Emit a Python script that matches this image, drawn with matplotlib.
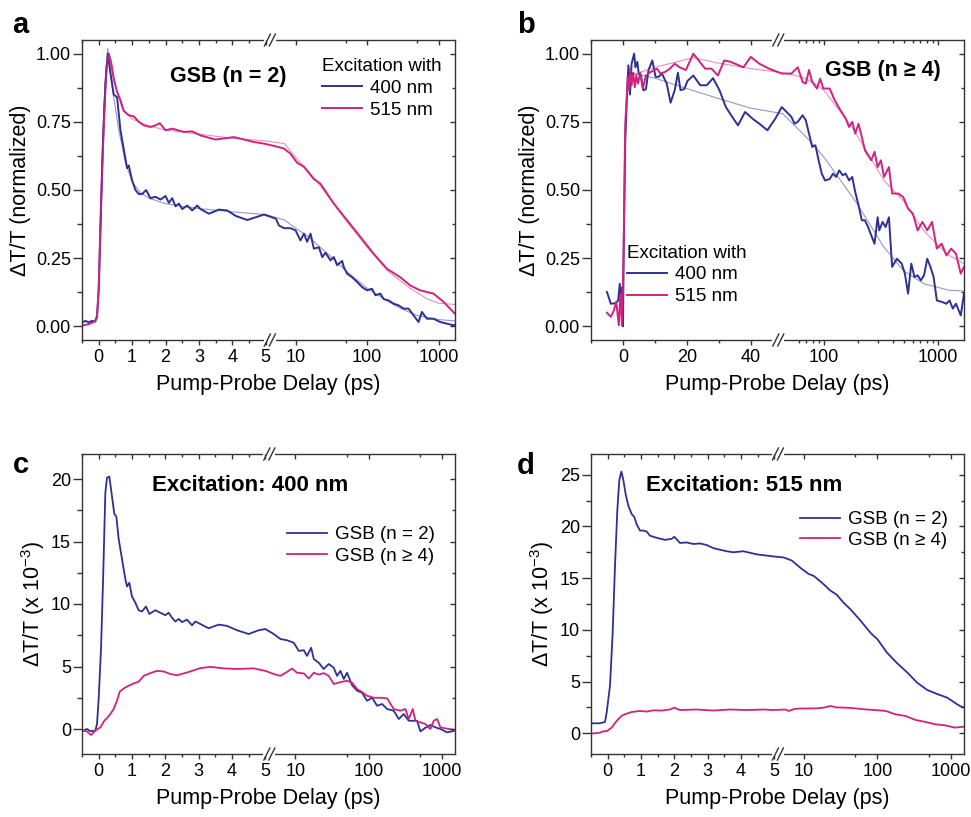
import numpy as np
import matplotlib
matplotlib.use('Agg')
import matplotlib.pyplot as plt

plt.rcParams['font.family'] = ['Liberation Sans', 'DejaVu Sans']
plt.rcParams['mathtext.fontset'] = 'custom'
plt.rcParams['mathtext.rm'] = 'Liberation Sans'
plt.rcParams['mathtext.default'] = 'regular'

NAVY = '#2E3192'
PINK = '#D0237F'

# ---- panel a: GSB (n = 2), normalized ----
a400_t = [-0.47, -0.4, -0.3, -0.2, -0.1, -0.05, 0.0, 0.05, 0.12, 0.2, 0.27, 0.35, 0.45, 0.55, 0.65,
          0.75, 0.85, 0.9, 1.0, 1.1, 1.2, 1.3, 1.42, 1.55, 1.7, 1.85, 2.0, 2.1, 2.2, 2.3, 2.4, 2.5,
          2.65, 2.8, 2.95, 3.05, 3.3, 3.6, 3.85, 4.1, 4.45, 4.95,
          5.3, 5.85, 6.87, 7.65, 8.5, 10, 11.7, 13.1, 14.5, 16.2, 18.0, 21.2, 23.6, 26.2, 30.8,
          34.3, 38.1, 44.8, 47.2, 52.6, 61.8, 72.5, 85.2, 100, 117, 131, 153, 171, 201, 236, 277,
          325, 381, 448, 526, 585, 687, 851, 1054, 1307, 1620, 1700]
a400_y = [0.016, 0.02, 0.015, 0.02, 0.018, 0.04, 0.13, 0.34, 0.65, 0.89, 1.0, 0.93, 0.85, 0.84, 0.72,
          0.65, 0.58, 0.59, 0.535, 0.5, 0.485, 0.485, 0.5, 0.47, 0.475, 0.465, 0.478, 0.453, 0.47,
          0.44, 0.45, 0.43, 0.443, 0.425, 0.443, 0.43, 0.413, 0.428, 0.425, 0.405, 0.39, 0.41,
          0.395, 0.37, 0.36, 0.36, 0.36, 0.352, 0.315, 0.34, 0.31, 0.34, 0.285, 0.29, 0.254, 0.27,
          0.242, 0.254, 0.224, 0.24, 0.218, 0.193, 0.18, 0.163, 0.144, 0.132, 0.138, 0.114, 0.12,
          0.1, 0.095, 0.083, 0.077, 0.065, 0.065, 0.04, 0.016, 0.053, 0.028, 0.028, 0.016, 0.01,
          0.004, 0.006]
a400_fit_t = [0.05, 0.15, 0.27, 0.4, 0.6, 0.8, 1.0, 1.25, 1.5, 2.0, 2.5, 3.0, 4.0, 5.0,
              7, 10, 15, 20, 30, 50, 100, 200, 300, 500, 1000, 1700]
a400_fit_y = [0.35, 0.8, 1.02, 0.88, 0.72, 0.6, 0.53, 0.49, 0.47, 0.45, 0.44, 0.432, 0.42, 0.41,
              0.39, 0.36, 0.33, 0.3, 0.26, 0.205, 0.14, 0.09, 0.065, 0.04, 0.025, 0.02]
a515_t = [-0.47, -0.3, -0.15, -0.05, 0.0, 0.07, 0.15, 0.23, 0.3, 0.37, 0.45, 0.55, 0.65, 0.75,
          0.9, 1.05, 1.2, 1.35, 1.55, 1.7, 1.83, 2.0, 2.2, 2.35, 2.55, 2.8, 3.05, 3.5, 4.05, 4.65, 4.95,
          5.3, 6.87, 8.5, 10.5, 13.1, 18.0, 22.3, 34.3, 52.6, 80.7, 124, 190, 292, 402, 555, 851,
          1175, 1700]
a515_y = [0.004, 0.008, 0.016, 0.03, 0.144, 0.46, 0.73, 0.95, 1.0, 0.97, 0.91, 0.86, 0.83, 0.79,
          0.774, 0.77, 0.75, 0.737, 0.731, 0.737, 0.745, 0.719, 0.725, 0.72, 0.713, 0.715, 0.7,
          0.685, 0.694, 0.676, 0.67,
          0.66, 0.652, 0.633, 0.6, 0.585, 0.54, 0.523, 0.45, 0.389, 0.328, 0.266, 0.211, 0.18,
          0.15, 0.132, 0.12, 0.09, 0.046]
a515_fit_t = [0.05, 0.15, 0.28, 0.45, 0.7, 1.0, 1.5, 2, 3, 4, 5, 7, 10, 15, 20, 30, 50, 100,
              200, 400, 700, 1000, 1700]
a515_fit_y = [0.35, 0.75, 1.0, 0.9, 0.8, 0.76, 0.735, 0.72, 0.705, 0.69, 0.68, 0.67, 0.62, 0.57,
              0.53, 0.47, 0.39, 0.29, 0.2, 0.14, 0.1, 0.085, 0.08]

# ---- panel b: GSB (n >= 4), normalized ----
b400_t = [-5, -3.8, -2.3, -1.5, -1.0, -0.5, -0.2, 0.0, 0.3, 0.7, 1.2, 1.7, 2.2, 2.7, 3.5, 3.9, 4.5,
          4.9, 5.7, 6.4, 7.2, 8.0, 9.2, 10.2, 11.2, 12.2, 13.7, 14.9, 16.2, 17.2, 18.0, 19.2, 20.2,
          22.0, 24.2, 26.2, 28.2, 30.2, 32.2, 34.2, 36.0, 38.2, 40.7, 42.7, 45.2, 47.7, 49.7,
          51.7, 55.1, 58.8, 64.8, 69.1, 73.8, 78.7, 84.0, 89.6, 95.6, 102, 112, 120, 128, 136,
          146, 155, 166, 177, 188, 201, 215, 229, 244, 260, 278, 296, 306, 327, 348, 372, 397,
          437, 482, 514, 548, 585, 624, 665, 710, 757, 808, 862, 919, 981, 1081, 1191, 1270,
          1355, 1446, 1592, 1700]
b400_y = [0.126, 0.083, 0.085, 0.095, 0.156, 0.05, 0.144, 0.0, 0.34, 0.67, 0.83, 0.957, 0.85,
          0.963, 1.0, 0.95, 0.97, 0.93, 0.915, 0.865, 0.87, 0.94, 0.975, 0.915, 0.915, 0.927, 0.89,
          0.82, 0.866, 0.93, 0.866, 0.87, 0.9, 0.92, 0.884, 0.884, 0.91, 0.866, 0.804, 0.768,
          0.737, 0.786, 0.76, 0.743, 0.719, 0.762, 0.804,
          0.768, 0.743, 0.75, 0.774, 0.756, 0.707, 0.658, 0.664, 0.609, 0.56, 0.535, 0.54, 0.56,
          0.548, 0.572, 0.554, 0.56, 0.535, 0.548, 0.493, 0.444, 0.389, 0.389, 0.364, 0.334,
          0.303, 0.4, 0.352, 0.383, 0.364, 0.4, 0.218, 0.248, 0.23, 0.193, 0.12, 0.23, 0.181,
          0.187, 0.169, 0.187, 0.248, 0.218, 0.181, 0.095, 0.09, 0.083, 0.095, 0.065, 0.083,
          0.04, 0.12]
b400_fit_t = [2.0, 10, 20, 30, 40, 50, 62.8, 75, 100, 188, 337, 497, 757, 1270, 1700]
b400_fit_y = [0.93, 0.91, 0.872, 0.835, 0.8, 0.78, 0.713, 0.68, 0.62, 0.46, 0.29, 0.205, 0.156,
              0.132, 0.13]
b515_t = [-5, -3.8, -2.8, -2.1, -1.3, -0.8, -0.3, 0.2, 0.7, 1.2, 1.5, 1.9, 2.3, 2.7, 3.2, 3.7,
          4.2, 4.7, 5.4, 6.2, 7.2, 8.7, 10.7, 11.7, 13.2, 14.7, 16.2, 17.7, 19.7, 22.0, 23.7, 25.7,
          27.7, 29.7, 31.7, 33.7, 37.7, 40.0, 42.7, 45.7, 49.7,
          51.7, 58.8, 64.8, 69.1, 73.8, 78.7, 86.7, 92.5, 98.7, 112, 124, 136, 155, 166, 177,
          188, 201, 215, 229, 244, 260, 278, 296, 316, 337, 372, 397, 451, 497, 548, 604, 665,
          733, 808, 890, 981, 1081, 1191, 1312, 1446, 1592, 1700]
b515_y = [0.05, 0.035, 0.06, 0.09, 0.004, 0.12, 0.004, 0.28, 0.74, 0.84, 0.915, 0.866, 0.945,
          0.884, 0.93, 0.877, 0.92, 0.89, 0.93, 0.872, 0.92, 0.933, 0.945, 0.927, 0.933, 0.945,
          0.963, 0.95, 0.94, 1.0, 0.975, 0.945, 0.945, 0.92, 0.975, 0.97, 0.95, 0.988, 0.963,
          0.945, 0.927,
          0.927, 0.95, 0.896, 0.89, 0.94, 0.896, 0.872, 0.908, 0.872, 0.872, 0.83, 0.8, 0.762,
          0.731, 0.75, 0.707, 0.743, 0.694, 0.645, 0.627, 0.609, 0.64, 0.584, 0.609, 0.548,
          0.584, 0.487, 0.487, 0.474, 0.432, 0.413, 0.352, 0.383, 0.352, 0.383, 0.285, 0.303,
          0.26, 0.285, 0.266, 0.193, 0.218]
b515_fit_t = [2.5, 10, 22, 30, 40, 50, 62.8, 80, 100, 177, 337, 497, 757, 1191, 1700]
b515_fit_y = [0.92, 0.95, 0.985, 0.965, 0.945, 0.93, 0.915, 0.895, 0.865, 0.73, 0.535, 0.46,
              0.35, 0.266, 0.23]

# ---- panel c: excitation 400 nm (x 1e-3) ----
c2_t = [-0.47, -0.35, -0.25, -0.1, -0.05, 0.0, 0.07, 0.13, 0.2, 0.25, 0.32, 0.4, 0.47, 0.53, 0.6,
        0.7, 0.8, 0.85, 0.92, 1.0, 1.1, 1.2, 1.3, 1.42, 1.52, 1.7, 1.85, 2.0, 2.1, 2.2, 2.3, 2.4,
        2.5, 2.65, 2.8, 2.9, 3.05, 3.3, 3.6, 3.85, 4.15, 4.5, 4.8, 5.0,
        5.06, 6.24, 7.7, 9.5, 11.1, 13.0, 14.4, 16.4, 17.8, 20.8, 24.3, 28.5, 33.3, 37.0, 41.1,
        45.6, 50.6, 59.3, 69.3, 81.1, 94.9, 111, 130, 152, 178, 219, 257, 300, 351, 456, 506,
        593, 693, 811, 949, 1170, 1500]
c2_y = [-0.13, 0.0, -0.18, -0.13, 0.4, 2.4, 6.4, 11.7, 18.9, 20.1, 20.2, 18.6, 17.2, 17.0, 15.2,
        13.6, 12.0, 11.4, 11.7, 10.6, 10.1, 9.5, 9.4, 9.8, 9.2, 9.5, 9.3, 9.1, 9.3, 8.9, 8.6, 8.8,
        8.55, 8.75, 8.3, 8.6, 8.4, 8.06, 8.35, 8.25, 7.9, 7.6, 7.9, 8.0,
        7.6, 7.2, 7.1, 6.9, 6.25, 6.3, 5.85, 6.5, 5.6, 5.3, 4.8, 5.2, 4.9, 4.25, 4.65, 4.0,
        4.5, 3.5, 3.06, 2.9, 2.26, 2.5, 1.86, 2.0, 1.6, 1.46, 0.8, 1.2, 0.66, 0.66, -0.19,
        0.1, 0.32, 0.13, 0.0, -0.27, -0.13]
c4_t = [-0.47, -0.35, -0.23, -0.1, 0.05, 0.17, 0.27, 0.35, 0.45, 0.55, 0.63, 0.75, 0.9, 1.05, 1.2,
        1.35, 1.55, 1.75, 1.95, 2.15, 2.35, 2.65, 3.05, 3.35, 3.75, 4.15, 4.65, 5.0,
        5.06, 6.24, 7.7, 9.0, 10.5, 13.0, 15.2, 17.8, 20.8, 24.3, 28.5, 33.3, 41.1, 50.6, 59.3,
        69.3, 81.1, 94.9, 117, 144, 178, 219, 270, 316, 351, 398, 433, 506, 593, 693, 770,
        855, 949, 1233, 1500]
c4_y = [-0.13, -0.2, -0.48, -0.13, 0.13, 0.66, 0.93, 1.2, 1.6, 2.26, 2.98, 3.24, 3.46, 3.64, 3.78,
        4.25, 4.47, 4.65, 4.6, 4.4, 4.3, 4.52, 4.87, 4.97, 4.85, 4.8, 4.85, 4.65,
        4.4, 4.25, 4.57, 4.84, 4.5, 4.45, 4.04, 4.5, 4.35, 4.47, 4.25, 3.6, 3.75, 3.86, 3.7,
        3.2, 2.95, 2.66, 2.5, 2.5, 2.45, 1.6, 1.46, 1.6, 0.8, 1.6, 0.66, 0.53, 0.4, 0.0, 0.66,
        0.8, 0.13, 0.0, -0.08]

# ---- panel d: excitation 515 nm (x 1e-3) ----
d2_t = [-0.5, -0.23, -0.08, -0.03, 0.07, 0.15, 0.22, 0.29, 0.35, 0.41, 0.47, 0.54, 0.62, 0.72,
        0.8, 0.87, 0.97, 1.07, 1.17, 1.27, 1.47, 1.72, 1.92, 2.0, 2.17, 2.37, 2.57, 2.77, 2.97,
        3.17, 3.57, 3.77, 4.07, 4.47, 4.97,
        5.35, 6.9, 9.0, 11.7, 13.8, 18.7, 23.0, 28.0, 35.0, 43.0, 58.9, 81.0, 100, 135, 184,
        253, 346, 473, 647, 886, 1100, 1350, 1500]
d2_y = [0.97, 0.97, 1.1, 2.0, 4.6, 9.7, 16.2, 21.6, 24.5, 25.3, 24.5, 23.1, 22.0, 21.2, 20.9,
        20.2, 19.6, 19.6, 19.5, 19.1, 18.9, 18.7, 18.8, 19.0, 18.4, 18.45, 18.3, 18.35, 18.2,
        17.9, 17.6, 17.5, 17.6, 17.3, 17.1,
        17.0, 16.7, 16.0, 15.4, 15.2, 14.4, 13.8, 13.4, 12.6, 12.0, 10.9, 9.7, 9.1, 7.8, 6.8,
        5.9, 4.9, 4.2, 3.8, 3.45, 3.0, 2.6, 2.5]
d4_t = [-0.5, -0.23, -0.13, -0.03, 0.12, 0.27, 0.42, 0.57, 0.72, 0.97, 1.17, 1.37, 1.62, 1.87,
        2.0, 2.17, 2.67, 3.17, 3.67, 4.17, 4.67, 4.97,
        5.7, 6.2, 7.5, 9.0, 11.7, 15.8, 18.7, 23.0, 28.0, 38.0, 52.0, 70.0, 95.0, 130, 175, 240,
        330, 450, 610, 830, 1130, 1500]
d4_y = [-0.03, 0.06, 0.2, 0.2, 0.55, 1.2, 1.7, 1.9, 2.06, 2.16, 2.1, 2.22, 2.2, 2.3, 2.48, 2.25,
        2.3, 2.2, 2.3, 2.25, 2.3, 2.25,
        2.3, 2.16, 2.35, 2.4, 2.4, 2.42, 2.48, 2.64, 2.5, 2.48, 2.4, 2.3, 2.25, 2.16, 1.84,
        1.68, 1.29, 1.1, 0.87, 0.77, 0.55, 0.64]


def make_scale(tb, gap, dec):
    # linear up to tb, then a small gap and a log segment (dec units per decade)
    def fwd(t):
        t = np.asarray(t, dtype=float)
        lg = tb + gap + dec * np.log10(np.maximum(t, tb) / tb)
        return np.where(t <= tb, t, lg)

    def inv(p):
        p = np.asarray(p, dtype=float)
        lg = tb * 10 ** (np.maximum(p - tb - gap, 0) / dec)
        return np.where(p <= tb, p, lg)
    return fwd, inv


def setup(ax, scale, xlim, ylim, xmaj, xlab, xmin, ymaj, ylab, ymin, ylabel):
    fwd, inv = scale
    ax.set_xscale('function', functions=(fwd, inv))
    ax.set_xlim(*xlim)
    ax.set_ylim(*ylim)
    ax.set_xticks(xmaj, xlab)
    ax.set_xticks(xmin, minor=True)
    ax.set_yticks(ymaj, ylab)
    ax.set_yticks(ymin, minor=True)
    for s in ax.spines.values():
        s.set_linewidth(1.0)
        s.set_color('#333333')
    ax.tick_params(which='both', direction='out', top=False, right=False, labelsize=13,
                   color='#333333', width=1.0)
    ax.tick_params(axis='x', which='major', length=3.8, pad=2.5)
    ax.tick_params(axis='x', which='minor', length=2.2)
    ax.tick_params(axis='y', which='major', length=6.5, pad=1.5)
    ax.tick_params(axis='y', which='minor', length=3.3)
    ax.set_xlabel('Pump-Probe Delay (ps)', fontsize=15.5, labelpad=6)
    ax.set_ylabel(ylabel, fontsize=15.5, labelpad=3)
    # mirrored inward ticks on top and right
    ov = ax.figure.add_axes(ax.get_position(), sharex=ax, sharey=ax)
    ov.patch.set_visible(False)
    for s in ov.spines.values():
        s.set_visible(False)
    ov.tick_params(which='both', direction='in', bottom=False, left=False, top=True, right=True,
                   labelbottom=False, labelleft=False, color='#333333', width=1.0)
    ov.tick_params(which='major', length=3.8)
    ov.tick_params(which='minor', length=2.2)
    return ov


def breakmarks(ax, pb, xlim, fwd):
    p0, p1 = float(fwd(xlim[0])), float(fwd(xlim[1]))
    xb = (pb - p0) / (p1 - p0)
    wpx, hpx = 373.0, 300.0
    for y0 in (0, 1):
        ax.plot([xb - 4 / wpx, xb + 4 / wpx], [y0, y0], color='white', lw=3,
                transform=ax.transAxes, clip_on=False, zorder=10)
        for c in (-2.5, 2.5):
            xc = xb + c / wpx
            ax.plot([xc - 3 / wpx, xc + 3 / wpx], [y0 - 6 / hpx, y0 + 6 / hpx], color='#333333',
                    lw=1.0, transform=ax.transAxes, clip_on=False, zorder=11)


fig = plt.figure(figsize=(9.71, 8.17), dpi=100)
W, H = 971, 817
axa = fig.add_axes([82 / W, 1 - 340 / H, 373 / W, 300 / H])
axb = fig.add_axes([591 / W, 1 - 340 / H, 373 / W, 300 / H])
axc = fig.add_axes([82 / W, 1 - 754 / H, 373 / W, 300 / H])
axd = fig.add_axes([591 / W, 1 - 754 / H, 373 / W, 300 / H])

sc_a = make_scale(5, 0.25, 2.14)
sc_b = make_scale(50, 2.2, 35.6)
sc_c = make_scale(5, 0.24, 2.2)
sc_d = make_scale(5, 0.215, 2.21)

xmaj_s = [0, 1, 2, 3, 4, 5, 10, 100, 1000]
xlab_s = ['0', '1', '2', '3', '4', '5', '10', '100', '1000']
xmin_s = [-0.5, 0.5, 1.5, 2.5, 3.5, 4.5, 50, 500]
yn_maj = [0, 0.25, 0.5, 0.75, 1.0]
yn_lab = ['0.00', '0.25', '0.50', '0.75', '1.00']
yn_min = [0.125, 0.375, 0.625, 0.875]
norm_label = 'ΔT/T (normalized)'
abs_label = 'ΔT/T (x 10$^{-3}$)'

# panel a
axa.plot(a400_t, a400_y, color=NAVY, lw=1.4, label='400 nm')
axa.plot(a515_t, a515_y, color=PINK, lw=1.4, label='515 nm')
axa.plot(a400_fit_t, a400_fit_y, color=NAVY, lw=0.8, alpha=0.5)
axa.plot(a515_fit_t, a515_fit_y, color=PINK, lw=0.8, alpha=0.5)
setup(axa, sc_a, (-0.5, 1700), (-0.05, 1.05), xmaj_s, xlab_s, xmin_s, yn_maj, yn_lab, yn_min,
      norm_label)
breakmarks(axa, 5 + 0.125, (-0.5, 1700), sc_a[0])
axa.text(0.393, 0.861, 'GSB (n = 2)', transform=axa.transAxes, ha='center', va='baseline',
         fontsize=15.5, fontweight='bold')
axa.legend(title='Excitation with', loc='upper left', bbox_to_anchor=(0.643, 0.94),
           frameon=False, fontsize=13.5, title_fontsize=13.5, handlelength=2.15,
           handletextpad=0.4, labelspacing=0.25, borderpad=0, borderaxespad=0,
           alignment='left')

# panel b
axb.plot(b400_t, b400_y, color=NAVY, lw=1.4, label='400 nm')
axb.plot(b515_t, b515_y, color=PINK, lw=1.4, label='515 nm')
axb.plot(b400_fit_t, b400_fit_y, color=NAVY, lw=0.8, alpha=0.5)
axb.plot(b515_fit_t, b515_fit_y, color=PINK, lw=0.8, alpha=0.5)
setup(axb, sc_b, (-5, 1700), (-0.05, 1.05), [0, 20, 40, 100, 1000],
      ['0', '20', '40', '100', '1000'],
      [-10, 10, 30, 60, 70, 80, 90, 200, 300, 400, 500, 600, 700, 800, 900],
      yn_maj, yn_lab, yn_min, norm_label)
breakmarks(axb, 50 + 1.1, (-5, 1700), sc_b[0])
axb.text(0.783, 0.88, 'GSB (n ≥ 4)', transform=axb.transAxes, ha='center', va='baseline',
         fontsize=15.5, fontweight='bold')
axb.legend(title='Excitation with', loc='upper left', bbox_to_anchor=(0.097, 0.318),
           frameon=False, fontsize=13.5, title_fontsize=13.5, handlelength=2.15,
           handletextpad=0.4, labelspacing=0.25, borderpad=0, borderaxespad=0, alignment='left')

# panel c
axc.plot(c2_t, c2_y, color=NAVY, lw=1.3, label='GSB (n = 2)')
axc.plot(c4_t, c4_y, color=PINK, lw=1.3, label='GSB (n ≥ 4)')
setup(axc, sc_c, (-0.5, 1500), (-2, 22), xmaj_s, xlab_s, xmin_s, [0, 5, 10, 15, 20],
      ['0', '5', '10', '15', '20'], [2.5, 7.5, 12.5, 17.5], abs_label)
breakmarks(axc, 5 + 0.12, (-0.5, 1500), sc_c[0])
axc.text(0.4496, 0.878, 'Excitation: 400 nm', transform=axc.transAxes, ha='center',
         va='baseline', fontsize=16, fontweight='bold')
axc.legend(loc='upper left', bbox_to_anchor=(0.55, 0.76), frameon=False, fontsize=13.5,
           handlelength=2.15, handletextpad=0.4, labelspacing=0.25, borderpad=0,
           borderaxespad=0)

# panel d
axd.plot(d2_t, d2_y, color=NAVY, lw=1.3, label='GSB (n = 2)')
axd.plot(d4_t, d4_y, color=PINK, lw=1.3, label='GSB (n ≥ 4)')
setup(axd, sc_d, (-0.5, 1500), (-2, 27), xmaj_s, xlab_s, xmin_s, [0, 5, 10, 15, 20, 25],
      ['0', '5', '10', '15', '20', '25'], [2.5, 7.5, 12.5, 17.5, 22.5], abs_label)
breakmarks(axd, 5 + 0.107, (-0.5, 1500), sc_d[0])
axd.text(0.4115, 0.878, 'Excitation: 515 nm', transform=axd.transAxes, ha='center',
         va='baseline', fontsize=16, fontweight='bold')
axd.legend(loc='upper left', bbox_to_anchor=(0.56, 0.81), frameon=False, fontsize=13.5,
           handlelength=2.15, handletextpad=0.4, labelspacing=0.2, borderpad=0,
           borderaxespad=0)

# panel letters
for letter, x, y in [('a', 12, 33), ('b', 517, 33), ('c', 13, 473), ('d', 517, 474)]:
    fig.text(x / W, 1 - y / H, letter, fontsize=21, fontweight='bold', va='baseline')

fig.savefig('out.png', dpi=100)
